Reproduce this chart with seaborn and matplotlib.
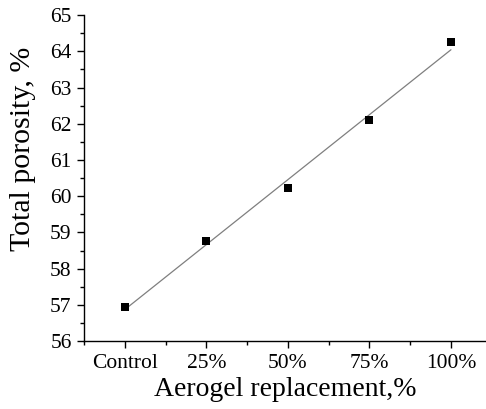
import matplotlib
matplotlib.use("Agg")
import matplotlib.pyplot as plt
import seaborn as sns
import numpy as np
import pandas as pd
from matplotlib.ticker import MultipleLocator

categories = ["Control", "25%", "50%", "75%", "100%"]
porosity = [56.95, 58.77, 60.22, 62.10, 64.25]

sns.set_style("ticks")
plt.rcParams["font.family"] = ["Liberation Serif", "DejaVu Serif"]
plt.rcParams["mathtext.fontset"] = "stix"

df = pd.DataFrame({"pos": np.arange(len(categories)), "porosity": porosity})

fig = plt.figure(figsize=(4.86, 4.09), dpi=100)
ax = fig.add_axes([0.173, 0.166, 0.827, 0.797])

sns.regplot(data=df, x="pos", y="porosity", ax=ax, ci=None,
            marker="s",
            scatter_kws={"color": "black", "s": 32, "edgecolor": "none", "alpha": 1, "zorder": 3},
            line_kws={"color": "#7f7f7f", "lw": 0.9, "zorder": 2})

ax.set_xlim(-0.5, 4.43)
ax.set_ylim(56, 65)
ax.set_xticks(range(len(categories)))
ax.set_xticklabels(categories)
ax.xaxis.set_minor_locator(MultipleLocator(0.5))
ax.yaxis.set_major_locator(MultipleLocator(1))
ax.yaxis.set_minor_locator(MultipleLocator(0.5))
ax.tick_params(axis="both", which="major", labelsize=15.5, length=5, width=1, color="black", labelcolor="black", direction="out", pad=4)
ax.tick_params(axis="both", which="minor", length=3, width=1, color="black", direction="out")
for s in ["top", "right"]:
    ax.spines[s].set_visible(False)
for s in ["left", "bottom"]:
    ax.spines[s].set_color("black")
    ax.spines[s].set_linewidth(1.0)

ax.set_xlabel("Aerogel replacement,%", fontsize=20, color="black", labelpad=3)
ax.set_ylabel("Total porosity, %", fontsize=21.5, color="black")
ax.yaxis.set_label_coords(-0.12, 0.59)

fig.savefig("out.png", dpi=100)
